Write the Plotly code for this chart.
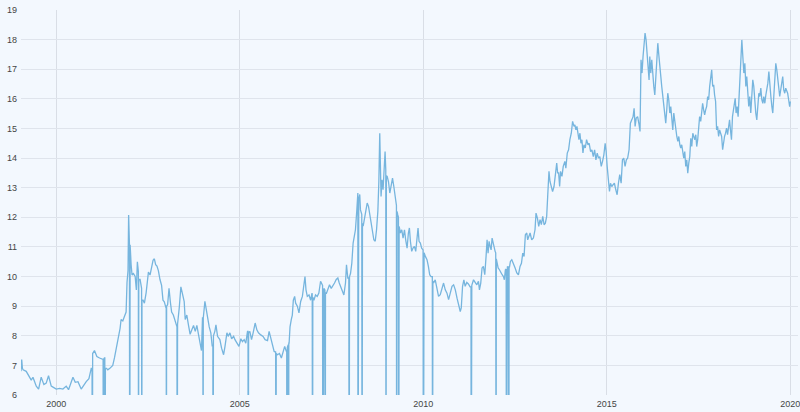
import pandas as pd
import plotly.graph_objects as go

# readings, split by period
dates_1999_2003 = [
    "1999-01-15", "1999-01-22", "1999-01-29", "1999-02-05", "1999-03-08", "1999-03-25",
    "1999-04-27", "1999-05-14", "1999-06-16", "1999-07-09", "1999-08-04", "1999-08-31",
    "1999-09-23", "1999-10-16", "1999-11-12", "1999-12-08", "2000-01-01", "2000-02-03",
    "2000-03-07", "2000-04-09", "2000-05-02", "2000-05-30", "2000-06-15", "2000-07-08",
    "2000-08-04", "2000-09-05", "2000-10-01", "2000-10-25", "2000-11-21", "2000-12-14",
    "2001-01-15", "2001-02-08", "2001-03-07", "2001-04-08", "2001-04-24", "2001-05-15",
    "2001-05-28", "2001-06-17", "2001-07-16", "2001-08-02", "2001-08-26", "2001-09-11",
    "2001-09-27", "2001-10-07", "2001-10-24", "2001-11-09", "2001-11-26", "2001-12-05",
    "2001-12-15", "2001-12-21", "2002-01-05", "2002-01-15", "2002-01-24", "2002-02-07",
    "2002-02-24", "2002-03-08", "2002-03-18", "2002-03-28", "2002-04-14", "2002-04-24",
    "2002-05-14", "2002-05-27", "2002-06-13", "2002-06-23", "2002-07-06", "2002-07-22",
    "2002-08-08", "2002-08-21", "2002-09-03", "2002-09-16", "2002-09-29", "2002-10-13",
    "2002-10-29", "2002-11-14", "2002-11-28", "2002-12-11", "2002-12-27", "2003-01-13",
    "2003-01-27", "2003-02-09", "2003-02-22", "2003-03-11", "2003-03-27", "2003-04-12",
    "2003-05-09", "2003-05-25", "2003-06-11", "2003-06-27", "2003-07-07", "2003-07-23",
    "2003-08-09", "2003-08-25", "2003-09-11", "2003-09-28", "2003-10-15", "2003-10-31",
    "2003-11-16", "2003-12-03", "2003-12-16", "2003-12-26",
]
vals_1999_2003 = [
    6.8, 7.2, 6.9, 6.85, 6.8, 6.7,
    6.5, 6.6, 6.3, 6.2, 6.6, 6.35,
    6.4, 6.65, 6.3, 6.25, 6.2, 6.22,
    6.2, 6.3, 6.18, 6.45, 6.6, 6.43,
    6.45, 6.2, 6.35, 6.45, 6.55, 6.9,
    7.5, 7.3, 7.25, 7.2, 7.25, 6.9,
    6.85, 6.9, 7.0, 7.25, 7.65, 8.0,
    8.25, 8.55, 8.5, 8.65, 8.8, 9.8,
    10.2, 12.08, 11.07, 10.4, 10.05, 10.1,
    10.0, 9.55, 10.5, 10.17, 9.9, 9.7,
    9.2, 9.1, 9.45, 9.85, 10.15, 10.05,
    10.3, 10.55, 10.6, 10.4, 10.35, 10.2,
    9.9, 9.7, 9.2, 9.15, 8.95, 9.05,
    9.6, 9.15, 8.8, 8.7, 8.55, 8.35,
    8.95, 9.65, 9.4, 9.15, 8.55, 8.7,
    8.35, 8.05, 8.2, 8.35, 8.15, 8.35,
    8.05, 7.8, 7.5, 8.6,
]

dates_2004_2008 = [
    "2004-01-03", "2004-01-19", "2004-02-01", "2004-02-14", "2004-03-02", "2004-03-18",
    "2004-04-01", "2004-04-27", "2004-05-08", "2004-05-24", "2004-06-16", "2004-07-03",
    "2004-07-23", "2004-08-06", "2004-08-25", "2004-09-07", "2004-09-24", "2004-10-11",
    "2004-10-31", "2004-11-13", "2004-12-03", "2004-12-23", "2005-01-11", "2005-01-27",
    "2005-02-13", "2005-03-01", "2005-03-18", "2005-04-10", "2005-04-27", "2005-05-13",
    "2005-06-02", "2005-06-19", "2005-07-05", "2005-07-28", "2005-08-20", "2005-09-09",
    "2005-10-03", "2005-10-19", "2005-11-04", "2005-11-21", "2005-12-08", "2006-01-10",
    "2006-01-30", "2006-02-18", "2006-03-10", "2006-03-23", "2006-04-09", "2006-04-27",
    "2006-05-06", "2006-05-15", "2006-05-28", "2006-06-07", "2006-06-17", "2006-06-30",
    "2006-07-10", "2006-07-27", "2006-08-12", "2006-08-29", "2006-09-15", "2006-10-01",
    "2006-10-11", "2006-10-21", "2006-11-03", "2006-11-20", "2006-12-06", "2006-12-20",
    "2007-01-08", "2007-01-24", "2007-02-10", "2007-02-26", "2007-03-15", "2007-03-29",
    "2007-04-17", "2007-05-13", "2007-05-26", "2007-06-12", "2007-06-29", "2007-07-15",
    "2007-08-01", "2007-08-18", "2007-09-03", "2007-09-17", "2007-09-30", "2007-10-16",
    "2007-11-02", "2007-11-18", "2007-11-28", "2007-12-11", "2008-01-07", "2008-01-20",
    "2008-02-02", "2008-02-16", "2008-02-25", "2008-03-10", "2008-03-20", "2008-03-29",
    "2008-04-08", "2008-04-15", "2008-05-12", "2008-05-25", "2008-06-08", "2008-06-21",
    "2008-07-04", "2008-07-17", "2008-07-31", "2008-08-13", "2008-08-26", "2008-09-09",
    "2008-09-22", "2008-10-05", "2008-10-15", "2008-10-24", "2008-11-06", "2008-11-16",
    "2008-11-26", "2008-12-06", "2008-12-16", "2008-12-23",
]
vals_2004_2008 = [
    8.6, 9.16, 8.9, 8.55, 8.3, 8.1,
    7.64, 8.15, 8.37, 7.98, 7.87, 7.58,
    7.36, 7.64, 8.1, 7.98, 8.1, 7.9,
    7.98, 7.87, 7.73, 7.64, 7.9, 7.8,
    7.87, 7.75, 8.15, 8.15, 7.87, 8.1,
    8.43, 8.2, 8.1, 8.03, 7.98, 7.87,
    7.84, 8.15, 7.9, 7.64, 7.47, 7.36,
    7.4, 7.25, 7.53, 7.64, 7.47, 7.7,
    7.75, 8.3, 8.55, 8.7, 9.2, 9.33,
    9.1, 9.0, 8.77, 9.16, 9.33, 9.78,
    10.0, 9.55, 9.33, 9.38, 9.2, 9.44,
    9.2, 9.38, 9.33, 9.44, 9.84, 9.72,
    9.6, 9.44, 9.55, 9.72, 9.6, 9.67,
    9.78, 9.9, 9.95, 9.78, 9.67, 9.55,
    9.38, 9.78, 10.4, 9.95, 10.1, 10.45,
    11.13, 11.35, 11.58, 12.25, 12.82, 12.6,
    12.77, 12.25, 11.7, 11.92, 12.2, 12.48,
    12.37, 12.03, 11.7, 11.52, 11.24, 11.19,
    11.58, 12.2, 13.2, 14.84, 12.7, 13.27,
    12.93, 13.5, 14.22, 13.6,
]

dates_2009_2013 = [
    "2009-01-06", "2009-01-19", "2009-02-01", "2009-02-15", "2009-02-28", "2009-03-13",
    "2009-03-23", "2009-04-02", "2009-04-21", "2009-05-05", "2009-05-18", "2009-05-31",
    "2009-06-13", "2009-06-27", "2009-07-09", "2009-07-23", "2009-08-05", "2009-08-15",
    "2009-08-25", "2009-09-07", "2009-09-20", "2009-10-04", "2009-10-17", "2009-10-30",
    "2009-11-09", "2009-11-19", "2009-12-02", "2009-12-15", "2010-01-08", "2010-01-21",
    "2010-02-06", "2010-02-20", "2010-03-05", "2010-03-18", "2010-04-13", "2010-04-29",
    "2010-05-16", "2010-06-01", "2010-06-18", "2010-07-05", "2010-07-21", "2010-08-07",
    "2010-08-24", "2010-09-09", "2010-09-26", "2010-10-13", "2010-10-29", "2010-11-15",
    "2010-12-02", "2010-12-18", "2011-01-03", "2011-01-13", "2011-01-26", "2011-02-08",
    "2011-02-21", "2011-03-09", "2011-03-25", "2011-04-11", "2011-04-28", "2011-05-15",
    "2011-06-01", "2011-06-17", "2011-07-03", "2011-07-13", "2011-07-26", "2011-08-08",
    "2011-08-21", "2011-09-04", "2011-09-17", "2011-09-27", "2011-10-07", "2011-10-17",
    "2011-10-27", "2011-11-06", "2011-11-16", "2011-11-26", "2011-12-06", "2011-12-16",
    "2012-01-02", "2012-01-15", "2012-01-28", "2012-02-11", "2012-02-24", "2012-03-08",
    "2012-03-17", "2012-03-27", "2012-04-16", "2012-05-08", "2012-05-16", "2012-05-30",
    "2012-06-15", "2012-07-02", "2012-07-19", "2012-08-04", "2012-08-20", "2012-09-03",
    "2012-09-16", "2012-09-29", "2012-10-12", "2012-10-26", "2012-11-04", "2012-11-14",
    "2012-11-28", "2012-12-14", "2012-12-31", "2013-01-16", "2013-01-26", "2013-02-09",
    "2013-02-22", "2013-03-07", "2013-03-20", "2013-04-03", "2013-04-16", "2013-04-29",
    "2013-05-12", "2013-05-22", "2013-06-04", "2013-06-14", "2013-06-27", "2013-07-10",
    "2013-07-24", "2013-08-06", "2013-08-20", "2013-08-29", "2013-09-08", "2013-09-18",
    "2013-09-27", "2013-10-11", "2013-10-24", "2013-11-09", "2013-11-19", "2013-12-03",
    "2013-12-16", "2013-12-29",
]
vals_2009_2013 = [
    13.38, 13.2, 12.82, 13.1, 13.32, 13.04,
    12.76, 12.48, 12.09, 11.69, 11.47, 11.58,
    11.3, 11.58, 11.24, 10.96, 11.47, 11.64,
    11.19, 10.85, 10.96, 11.02, 10.85, 11.41,
    11.64, 11.19, 11.13, 10.96, 10.8, 10.68,
    10.57, 10.34, 10.06, 10.0, 9.78, 9.89,
    9.61, 9.33, 9.39, 9.61, 9.78, 9.55,
    9.44, 9.22, 9.5, 9.67, 9.72, 9.55,
    9.27, 9.05, 8.82, 8.94, 9.67, 9.89,
    9.67, 9.8, 9.75, 9.65, 9.7, 9.89,
    9.78, 9.72, 9.84, 9.55, 9.78, 10.29,
    10.34, 10.06, 10.68, 11.24, 10.79, 11.19,
    11.02, 10.9, 11.3, 11.13, 10.9, 10.85,
    10.51, 10.29, 10.23, 10.12, 10.06, 10.0,
    9.89, 10.23, 10.34, 10.34, 10.51, 10.57,
    10.45, 10.29, 10.12, 10.06, 10.34, 10.45,
    10.79, 10.68, 11.41, 11.47, 11.24, 11.35,
    11.47, 11.24, 11.3, 11.58, 12.14, 11.97,
    11.69, 11.92, 11.75, 12.03, 11.75, 11.8,
    12.03, 12.7, 13.55, 13.21, 13.04, 12.87,
    13.04, 13.49, 13.83, 13.5, 13.5, 13.04,
    13.55, 13.38, 13.72, 13.89, 13.66, 14.17,
    14.28, 14.62,
]

dates_2014_2016 = [
    "2014-01-12", "2014-01-25", "2014-02-08", "2014-02-17", "2014-02-27", "2014-03-09",
    "2014-03-19", "2014-03-29", "2014-04-08", "2014-04-18", "2014-04-28", "2014-05-08",
    "2014-05-18", "2014-05-31", "2014-06-13", "2014-06-27", "2014-07-09", "2014-07-23",
    "2014-08-05", "2014-08-19", "2014-09-01", "2014-09-14", "2014-09-27", "2014-10-10",
    "2014-10-23", "2014-11-06", "2014-11-19", "2014-12-02", "2014-12-15", "2014-12-25",
    "2015-01-04", "2015-01-17", "2015-01-27", "2015-02-06", "2015-02-19", "2015-03-04",
    "2015-03-17", "2015-03-31", "2015-04-13", "2015-04-26", "2015-05-09", "2015-05-23",
    "2015-06-05", "2015-06-18", "2015-07-01", "2015-07-14", "2015-07-27", "2015-08-10",
    "2015-08-23", "2015-09-06", "2015-09-19", "2015-09-29", "2015-10-09", "2015-10-20",
    "2015-11-03", "2015-11-18", "2015-11-27", "2015-12-07", "2015-12-17", "2015-12-27",
    "2016-01-06", "2016-01-16", "2016-01-26", "2016-02-04", "2016-02-14", "2016-02-25",
    "2016-03-03", "2016-03-13", "2016-03-23", "2016-04-02", "2016-04-12", "2016-04-22",
    "2016-05-02", "2016-05-12", "2016-05-22", "2016-06-01", "2016-06-11", "2016-06-21",
    "2016-06-30", "2016-07-10", "2016-07-20", "2016-07-30", "2016-08-09", "2016-08-19",
    "2016-08-29", "2016-09-08", "2016-09-18", "2016-09-28", "2016-10-08", "2016-10-18",
    "2016-10-28", "2016-11-07", "2016-11-17", "2016-11-27", "2016-12-07", "2016-12-17",
    "2016-12-27",
]
vals_2014_2016 = [
    14.84, 15.24, 15.07, 15.12, 14.95, 15.07,
    14.79, 14.62, 14.84, 14.5, 14.62, 14.17,
    14.45, 14.34, 14.62, 14.45, 14.5, 14.22,
    14.28, 14.05, 14.28, 13.94, 14.17, 14.0,
    14.05, 13.72, 13.89, 14.11, 14.5, 14.22,
    13.72, 13.27, 12.87, 13.15, 13.04, 13.1,
    13.15, 12.93, 12.76, 13.15, 13.44, 13.15,
    13.94, 14.0, 13.72, 13.94, 14.0, 14.28,
    15.18, 15.29, 15.4, 15.68, 15.07, 15.35,
    15.4, 15.12, 14.9, 17.32, 16.87, 17.43,
    17.77, 18.22, 17.99, 17.6, 17.3, 16.64,
    17.43, 16.87, 17.32, 16.75, 16.42, 16.13,
    16.64, 17.32, 17.88, 17.48, 17.2, 16.75,
    16.42, 16.08, 15.85, 15.63, 15.18, 15.63,
    16.19, 15.97, 15.52, 15.74, 15.18, 14.95,
    15.52, 15.18, 14.95, 14.73, 14.56, 14.73,
    14.45,
]

dates_2017_2020 = [
    "2017-01-05", "2017-01-15", "2017-01-25", "2017-02-04", "2017-02-14", "2017-02-24",
    "2017-03-06", "2017-03-16", "2017-03-26", "2017-04-05", "2017-04-15", "2017-04-25",
    "2017-05-05", "2017-05-15", "2017-05-25", "2017-06-04", "2017-06-13", "2017-06-23",
    "2017-07-02", "2017-07-12", "2017-07-23", "2017-08-01", "2017-08-11", "2017-08-21",
    "2017-08-31", "2017-09-10", "2017-09-20", "2017-09-30", "2017-10-10", "2017-10-20",
    "2017-10-30", "2017-11-09", "2017-11-19", "2017-11-29", "2017-12-08", "2017-12-18",
    "2017-12-28", "2018-01-07", "2018-01-17", "2018-01-27", "2018-02-06", "2018-02-16",
    "2018-02-26", "2018-03-07", "2018-03-17", "2018-03-27", "2018-04-06", "2018-04-16",
    "2018-04-26", "2018-05-06", "2018-05-15", "2018-05-25", "2018-06-04", "2018-06-14",
    "2018-06-24", "2018-07-01", "2018-07-10", "2018-07-20", "2018-07-30", "2018-08-09",
    "2018-08-19", "2018-08-29", "2018-09-05", "2018-09-15", "2018-09-25", "2018-10-05",
    "2018-10-15", "2018-10-24", "2018-11-03", "2018-11-13", "2018-11-23", "2018-12-03",
    "2018-12-13", "2018-12-23", "2019-01-02", "2019-01-12", "2019-01-22", "2019-02-01",
    "2019-02-11", "2019-02-21", "2019-03-03", "2019-03-13", "2019-03-23", "2019-04-02",
    "2019-04-12", "2019-04-22", "2019-05-02", "2019-05-12", "2019-05-22", "2019-06-01",
    "2019-06-11", "2019-06-21", "2019-07-01", "2019-07-10", "2019-07-20", "2019-07-30",
    "2019-08-09", "2019-08-19", "2019-08-29", "2019-09-08", "2019-09-17", "2019-09-27",
    "2019-10-07", "2019-10-17", "2019-10-27", "2019-11-06", "2019-11-16", "2019-11-25",
    "2019-12-05", "2019-12-15", "2019-12-25", "2020-01-01",
]
vals_2017_2020 = [
    14.34, 14.45, 14.28, 14.0, 14.22, 13.72,
    13.94, 13.49, 13.83, 14.05, 14.67, 14.39,
    14.84, 14.73, 14.62, 14.79, 14.39, 14.62,
    15.07, 15.4, 15.24, 15.57, 15.85, 15.63,
    15.46, 15.63, 15.74, 16.08, 15.97, 16.42,
    16.64, 16.98, 16.42, 16.47, 16.13, 15.91,
    14.95, 15.07, 14.73, 14.95, 14.84, 14.73,
    14.28, 14.56, 14.73, 14.84, 15.01, 14.79,
    15.07, 15.29, 14.95, 14.62, 15.4, 15.63,
    15.97, 16.02, 15.52, 15.74, 15.4, 16.08,
    16.75, 17.2, 17.99, 17.43, 16.87, 17.2,
    16.42, 16.75, 16.3, 15.74, 16.08, 15.52,
    16.08, 16.64, 16.42, 15.85, 15.52, 15.29,
    15.85, 16.19, 16.08, 16.36, 15.97, 15.85,
    16.08, 15.85, 16.13, 16.3, 16.53, 16.92,
    16.3, 16.08, 15.74, 15.52, 16.08, 16.64,
    17.2, 16.98, 16.75, 16.36, 16.08, 16.36,
    16.64, 16.75, 16.3, 16.19, 16.36, 16.25,
    16.19, 15.97, 15.74, 15.91,
]

# days with no quote, recorded as 0 in the source series
dropout_dates = [
    "2000-12-25", "2001-04-13", "2001-05-01", "2002-01-01", "2002-03-29", "2002-05-01",
    "2003-01-01", "2003-04-18", "2004-01-01", "2004-04-09", "2005-03-25", "2005-12-26",
    "2006-04-14", "2006-05-01", "2006-12-25", "2007-04-06", "2007-05-01", "2007-12-25",
    "2008-03-21", "2008-05-01", "2008-12-25", "2009-04-10", "2009-05-01", "2010-01-01",
    "2010-04-02", "2011-04-22", "2011-12-26", "2012-04-06", "2012-05-01",
]
# quotes on the days either side of each gap
edge_dates = [
    "2000-12-22", "2000-12-28", "2001-04-11", "2001-04-16", "2001-04-28", "2001-05-04",
    "2001-12-29", "2002-01-03", "2002-03-27", "2002-04-01", "2002-04-29", "2002-05-03",
    "2002-12-30", "2003-01-03", "2003-04-16", "2003-04-22", "2003-12-30", "2004-01-02",
    "2004-04-07", "2004-04-13", "2005-03-23", "2005-03-29", "2005-12-23", "2005-12-29",
    "2006-04-12", "2006-04-18", "2006-04-28", "2006-05-03", "2006-12-22", "2006-12-28",
    "2007-04-04", "2007-04-10", "2007-04-27", "2007-05-03", "2007-12-21", "2007-12-28",
    "2008-03-19", "2008-03-25", "2008-04-28", "2008-05-05", "2008-12-24", "2008-12-29",
    "2009-04-08", "2009-04-14", "2009-04-28", "2009-05-04", "2009-12-29", "2010-01-04",
    "2010-03-31", "2010-04-06", "2011-04-20", "2011-04-26", "2011-12-22", "2011-12-28",
    "2012-04-04", "2012-04-10", "2012-04-27", "2012-05-03",
]
edge_vals = [
    6.9, 7.4, 7.2, 7.2, 7.25, 6.9,
    11.1, 11.0, 10.2, 9.9, 9.6, 9.2,
    8.95, 9.0, 8.3, 8.4, 8.6, 8.6,
    7.7, 8.0, 8.15, 8.1, 7.45, 7.4,
    7.5, 7.6, 7.7, 7.75, 9.4, 9.3,
    9.7, 9.6, 9.55, 9.45, 9.95, 10.0,
    12.8, 12.6, 12.1, 11.8, 13.6, 13.4,
    12.4, 12.2, 12.0, 11.7, 10.9, 10.8,
    10.0, 9.85, 9.65, 9.7, 10.8, 10.6,
    10.25, 10.3, 10.3, 10.35,
]

frames = [
    pd.DataFrame({"date": dates_1999_2003, "value": vals_1999_2003}),
    pd.DataFrame({"date": dates_2004_2008, "value": vals_2004_2008}),
    pd.DataFrame({"date": dates_2009_2013, "value": vals_2009_2013}),
    pd.DataFrame({"date": dates_2014_2016, "value": vals_2014_2016}),
    pd.DataFrame({"date": dates_2017_2020, "value": vals_2017_2020}),
    pd.DataFrame({"date": edge_dates, "value": edge_vals}),
    pd.DataFrame({"date": dropout_dates, "value": [0.0] * len(dropout_dates)}),
]
df = pd.concat(frames, ignore_index=True)
df["date"] = pd.to_datetime(df["date"])
df = df.sort_values("date")

fig = go.Figure()
fig.add_trace(go.Scatter(x=df["date"], y=df["value"], mode="lines",
                         line=dict(color="#76b5de", width=1.3), hoverinfo="x+y"))

axis_font = dict(family="Liberation Sans, Arial, sans-serif", size=9, color="#444")
fig.update_layout(
    width=800, height=412,
    margin=dict(l=21, r=0, t=10, b=17),
    paper_bgcolor="#f3f8fe", plot_bgcolor="#f3f8fe",
    showlegend=False,
    xaxis=dict(type="date", range=["1999-01-15", "2020-03-17"],
               tick0="2000-01-01", dtick="M60", tickformat="%Y",
               showgrid=True, gridcolor="#d9dee6", gridwidth=1,
               zeroline=False, showline=False, ticks="",
               tickfont=axis_font, ticklabelstandoff=2,
               ticklabeloverflow="allow"),
    yaxis=dict(range=[6, 19], dtick=1, showgrid=True, gridcolor="#dfe4ec",
               gridwidth=1, zeroline=False, showline=False, ticks="",
               tickfont=axis_font, ticklabelstandoff=3),
)

# drop the browser's default body margin so the chart sits at the page corner
fig.write_html("out.html", config={"displayModeBar": False},
               post_script="document.body.style.margin = '0';")
